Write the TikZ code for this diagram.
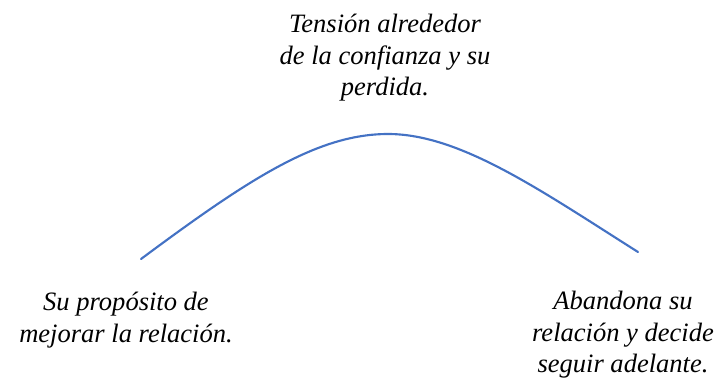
\documentclass[tikz,border=0pt]{standalone}
\usepackage{fontspec}
\setmainfont{Liberation Serif}
\definecolor{curveblue}{HTML}{4472C4}
\begin{document}
\begin{tikzpicture}[x=0.75pt,y=-0.75pt,
  lbl/.style={align=center,inner sep=0pt,anchor=north,font=\fontsize{19.9}{23.6}\selectfont\itshape},
  arc/.style={draw=curveblue,line width=1.6pt,line cap=round}]
\useasboundingbox (0,0) rectangle (719,379);
\node[lbl] (top) at (385,14) {Tensión alrededor\\de la confianza y su\\perdida.};
\node[lbl] (left) at (126,292) {Su propósito de\\mejorar la relación.};
\node[lbl] (right) at (623,291) {Abandona su\\relación y decide\\seguir adelante.};
\coordinate (s) at (141,259);
\coordinate (p) at (388,134);
\coordinate (e) at (638,252);
\draw[arc] (s) .. controls (250,178) and (318,134) .. (p) .. controls (460,134) and (540,190) .. (e);
\end{tikzpicture}
\end{document}
